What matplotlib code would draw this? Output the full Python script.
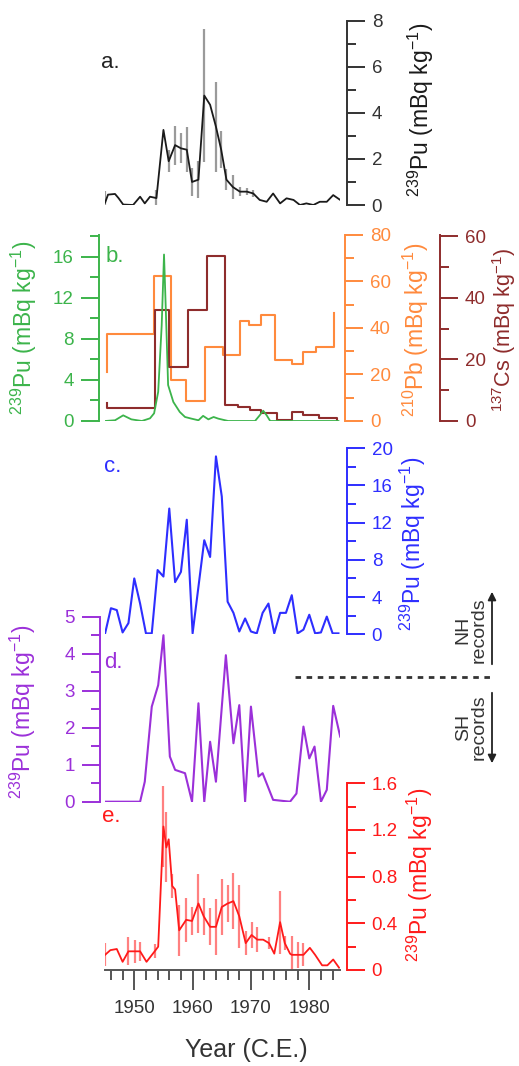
import matplotlib
matplotlib.use('Agg')
import matplotlib.pyplot as plt
from matplotlib.ticker import MultipleLocator, FormatStrFormatter

plt.rcParams['font.family'] = ['Liberation Sans', 'DejaVu Sans']
plt.rcParams['mathtext.fontset'] = 'custom'
plt.rcParams['mathtext.rm'] = 'Liberation Sans'
plt.rcParams['mathtext.it'] = 'Liberation Sans:italic'
plt.rcParams['mathtext.bf'] = 'Liberation Sans:bold'

# ---- data ----
# a. 239Pu (black, with grey error bars)
a_year = [1945.0, 1945.5, 1946.7, 1947.3, 1948.1, 1949.8, 1951.0, 1951.8, 1952.7, 1953.8,
          1955.0, 1955.9, 1957.0, 1958.0, 1959.0, 1959.9, 1961.0, 1962.0, 1963.0, 1964.0,
          1964.9, 1965.8, 1966.9, 1968.1, 1969.3, 1970.4, 1971.5, 1972.7, 1973.8, 1975.0,
          1976.1, 1977.3, 1978.4, 1979.5, 1980.7, 1981.8, 1983.0, 1984.1, 1985.3]
a_pu = [0.1, 0.45, 0.48, 0.3, 0.02, 0.0, 0.36, 0.07, 0.36, 0.3,
        3.26, 1.9, 2.6, 2.46, 2.4, 1.0, 1.1, 4.75, 4.35, 3.4,
        2.4, 1.1, 0.78, 0.58, 0.58, 0.5, 0.22, 0.14, 0.5, 0.07,
        0.29, 0.22, 0.0, 0.07, 0.0, 0.14, 0.14, 0.43, 0.22]
a_err = [0.5, 0, 0, 0, 0, 0, 0, 0, 0, 0.33,
         0, 0.47, 0.85, 0.65, 0.98, 0.62, 0.8, 2.9, 0, 1.96,
         0.8, 0.47, 0.54, 0.2, 0.15, 0.15, 0, 0, 0, 0,
         0, 0, 0, 0, 0, 0, 0, 0, 0]

# b. 239Pu (green), 210Pb (orange steps), 137Cs (brown steps)
b_year = [1945.0, 1946.7, 1948.1, 1949.5, 1951.3, 1952.7, 1953.4, 1954.1, 1954.7, 1955.1,
          1955.4, 1955.8, 1956.7, 1957.8, 1958.7, 1959.8, 1961.0, 1961.8, 1962.7, 1963.6,
          1964.4, 1966.1, 1970.7, 1971.5, 1972.1, 1972.7, 1973.3, 1985.0]
b_pu = [0.0, 0.07, 0.55, 0.16, 0.0, 0.26, 0.75, 2.84, 9.3, 16.2,
        10.96, 3.5, 1.85, 0.88, 0.39, 0.23, 0.07, 0.5, 0.16, 0.39,
        0.23, 0.0, 0.0, 0.55, 1.0, 0.55, 0.0, 0.0]
pb_year = [1945.4, 1945.4, 1953.4, 1956.3, 1958.8, 1962.2, 1965.2, 1968.1, 1969.6, 1971.8,
           1974.2, 1977.0, 1979.0, 1981.1, 1984.3]
pb = [21.0, 37.5, 62.3, 17.5, 8.5, 31.8, 28.5, 42.9, 41.2, 45.5,
      26.4, 24.6, 29.7, 31.8, 46.6]
cs_year = [1945.4, 1945.4, 1953.55, 1955.9, 1959.2, 1962.4, 1965.6, 1967.8, 1969.8, 1971.8,
           1974.4, 1977.0, 1979.0, 1981.6, 1984.7]
cs = [5.8, 4.1, 36.2, 17.4, 36.2, 53.5, 5.2, 4.7, 3.6, 2.5,
      0.3, 2.8, 2.0, 0.9, 0.0]

# c. 239Pu (blue), annual
c_year = list(range(1945, 1986))
c_pu = [0.1, 2.8, 2.6, 0.2, 1.2, 6.0, 3.3, 0.1, 0.1, 6.9,
        6.2, 13.5, 5.6, 6.7, 12.3, 0.1, 5.1, 10.1, 8.3, 19.1,
        14.8, 3.5, 2.3, 0.3, 1.7, 0.3, 0.1, 2.3, 3.3, 0.1,
        2.3, 2.3, 4.2, 0.1, 0.5, 2.1, 0.1, 0.2, 1.9, 0.1, 0.1]

# d. 239Pu (purple)
d_year = [1945.0, 1951.0, 1951.8, 1953.0, 1954.1, 1955.0, 1956.1, 1957.0, 1958.7, 1959.9,
          1961.0, 1962.0, 1963.0, 1964.0, 1965.7, 1967.0, 1968.0, 1969.0, 1970.0, 1971.3,
          1972.0, 1973.8, 1976.7, 1977.8, 1979.0, 1980.0, 1980.9, 1982.0, 1983.0, 1984.1, 1985.3]
d_pu = [0, 0, 0.54, 2.57, 3.15, 4.5, 1.22, 0.86, 0.77, 0,
        2.66, 0, 1.62, 0.54, 3.96, 1.58, 2.61, 0, 2.57, 0.68,
        0.77, 0.05, 0, 0.22, 2.03, 1.17, 1.49, 0, 0.32, 2.59, 1.76]

# e. 239Pu (red, with error bars)
e_year = [1945.0, 1945.9, 1947.0, 1948.0, 1949.0, 1950.1, 1951.0, 1952.1, 1953.5, 1954.1,
          1955.0, 1955.5, 1955.9, 1956.5, 1957.0, 1957.7, 1958.9, 1959.9, 1961.0, 1961.9,
          1963.0, 1964.0, 1965.0, 1966.0, 1967.0, 1968.0, 1969.1, 1970.1, 1971.1, 1972.1,
          1973.1, 1974.0, 1975.0, 1975.8, 1976.7, 1977.0, 1978.1, 1979.0, 1980.1, 1981.0,
          1982.2, 1983.1, 1984.1, 1985.1]
e_pu = [0.13, 0.17, 0.18, 0.07, 0.16, 0.16, 0.16, 0.07, 0.16, 0.2,
        1.23, 1.05, 1.12, 0.72, 0.69, 0.34, 0.43, 0.42, 0.57, 0.46,
        0.37, 0.37, 0.54, 0.57, 0.59, 0.46, 0.23, 0.30, 0.26, 0.26,
        0.23, 0.14, 0.41, 0.23, 0.14, 0.13, 0.13, 0.13, 0.19, 0.13,
        0.04, 0.04, 0.09, 0.02]
e_err = [0.1, 0, 0, 0, 0.12, 0.1, 0.08, 0, 0.06, 0,
         0.35, 0.3, 0, 0.1, 0, 0.22, 0.19, 0.12, 0.25, 0.16,
         0.16, 0.24, 0.24, 0.16, 0.24, 0.27, 0.1, 0.11, 0.11, 0,
         0.05, 0, 0.27, 0.06, 0, 0.16, 0.11, 0.1, 0, 0,
         0, 0, 0, 0]

W, H = 519, 1066
X0, X1 = 1945.0, 1985.3
fig = plt.figure(figsize=(W / 100, H / 100), dpi=100)


def box(x0, x1, ytop, ybot):
    return [x0 / W, 1 - ybot / H, (x1 - x0) / W, (ybot - ytop) / H]


def style(ax, side, color, major, minor, ylim, off_px=0, fmt=None):
    for s in ax.spines.values():
        s.set_visible(False)
    sp = ax.spines[side]
    sp.set_visible(True)
    sp.set_color(color)
    sp.set_linewidth(1.4)
    if off_px:
        sp.set_position(('outward', off_px * 0.72))
    ax.set_ylim(*ylim)
    ax.set_xlim(X0, X1)
    ax.yaxis.set_ticks_position(side)
    ax.yaxis.set_major_locator(MultipleLocator(major))
    ax.yaxis.set_minor_locator(MultipleLocator(minor))
    if fmt:
        ax.yaxis.set_major_formatter(FormatStrFormatter(fmt))
    ax.tick_params(axis='y', which='major', direction='out', length=13, width=1.4,
                   color=color, labelcolor=color, labelsize=13.5, pad=5)
    ax.tick_params(axis='y', which='minor', direction='out', length=6.5, width=1.4, color=color)
    ax.set_xticks([])
    ax.patch.set_visible(False)


lab_pu = r'$^{239}$Pu (mBq kg$^{-1}$)'

# a.
ax_a = fig.add_axes(box(105.1, 340.2, 20.7, 205))
ax_a.errorbar(a_year, a_pu, yerr=a_err, fmt='none', ecolor='#9a9a9a', elinewidth=1.6, capsize=0)
ax_a.plot(a_year, a_pu, color='#1a1a1a', lw=1.3)
style(ax_a, 'right', '#333333', 2, 1, (0, 8), off_px=6.5)

# b.
ax_b = fig.add_axes(box(105.1, 340.2, 235, 421))
ax_pb = ax_b.twinx()
ax_cs = ax_b.twinx()
ax_pb.plot(pb_year, pb, drawstyle='steps-post', color='#ff8a3d', lw=1.5)
ax_cs.plot(cs_year, cs, drawstyle='steps-post', color='#8e2c2c', lw=1.5)
ax_b.plot(b_year, b_pu, color='#3cb44b', lw=1.3)
style(ax_b, 'left', '#3cb44b', 4, 2, (0, 18.1), off_px=6.4)
style(ax_pb, 'right', '#ff8a3d', 20, 10, (0, 80), off_px=4.8)
style(ax_cs, 'right', '#8e2c2c', 20, 10, (0, 60.4), off_px=99.8)
ax_b.set_zorder(3)

# c.
ax_c = fig.add_axes(box(105.1, 340.2, 448, 634.3))
ax_c.plot(c_year, c_pu, color='#2e2eff', lw=1.5)
style(ax_c, 'right', '#2e2eff', 4, 2, (0, 20), off_px=6.5)

# d.
ax_d = fig.add_axes(box(105.1, 340.2, 616.7, 801.7))
ax_d.plot(d_year, d_pu, color='#9b30d9', lw=1.5)
style(ax_d, 'left', '#9b30d9', 1, 0.5, (0, 5), off_px=5)

# e.
ax_e = fig.add_axes(box(105.1, 340.2, 783.3, 970))
ax_e.errorbar(e_year, e_pu, yerr=e_err, fmt='none', ecolor='#ff8080', elinewidth=1.6, capsize=0)
ax_e.plot(e_year, e_pu, color='#ff1a1a', lw=1.3)
style(ax_e, 'right', '#ff1a1a', 0.4, 0.2, (0, 1.6), off_px=6.5, fmt='%g')
ax_e.spines['bottom'].set_visible(True)
ax_e.spines['bottom'].set_color('#555555')
ax_e.spines['bottom'].set_linewidth(1.4)
ax_e.xaxis.set_major_locator(MultipleLocator(10))
ax_e.xaxis.set_minor_locator(MultipleLocator(2))
ax_e.tick_params(axis='x', which='major', direction='out', length=14.4, width=1.4,
                 color='#555555', labelcolor='#333333', labelsize=13.5, pad=7)
ax_e.tick_params(axis='x', which='minor', direction='out', length=7.2, width=1.4, color='#555555')

# y labels
def ylab(x, y, text, color, size=16.5):
    fig.text(x / W, 1 - y / H, text, rotation=90, ha='center', va='center',
             color=color, fontsize=size)

ylab(421, 110, lab_pu, '#1a1a1a')
ylab(24, 328, lab_pu, '#3cb44b')
ylab(416, 330, r'$^{210}$Pb (mBq kg$^{-1}$)', '#ff8a3d')
ylab(504, 330, r'$^{137}$Cs (mBq kg$^{-1}$)', '#8e2c2c', 15.5)
ylab(413, 544, lab_pu, '#2e2eff')
ylab(23, 712, lab_pu, '#9b30d9')
ylab(420, 875, lab_pu, '#ff1a1a')

fig.text(246 / W, 1 - 1050 / H, 'Year (C.E.)', ha='center', va='center',
         fontsize=18, color='#333333')

# overlay for panel letters and NH / SH annotation
ov = fig.add_axes([0, 0, 1, 1])
ov.set_xlim(0, W)
ov.set_ylim(H, 0)
ov.axis('off')
for (x, y, t, c) in [(101, 63, 'a.', '#222222'), (106, 256, 'b.', '#3cb44b'),
                     (104, 466, 'c.', '#2e2eff'), (104, 662, 'd.', '#9b30d9'),
                     (102, 817, 'e.', '#ff1a1a')]:
    ov.text(x, y, t, color=c, fontsize=16, ha='left', va='center')

ov.plot([295, 490], [677, 677], color='#333333', lw=2, ls=(0, (2, 2)))
ov.annotate('', xy=(492, 589), xytext=(492, 667),
            arrowprops=dict(arrowstyle='-|>', color='#222222', lw=1.3, mutation_scale=12))
ov.annotate('', xy=(492, 766), xytext=(492, 690),
            arrowprops=dict(arrowstyle='-|>', color='#222222', lw=1.3, mutation_scale=12))
ov.text(471, 630, 'NH\nrecords', rotation=90, ha='center', va='center',
        multialignment='center', fontsize=14, color='#333333', linespacing=0.9)
ov.text(471, 727, 'SH\nrecords', rotation=90, ha='center', va='center',
        multialignment='center', fontsize=14, color='#333333', linespacing=0.9)

fig.savefig('out.png', dpi=100)
